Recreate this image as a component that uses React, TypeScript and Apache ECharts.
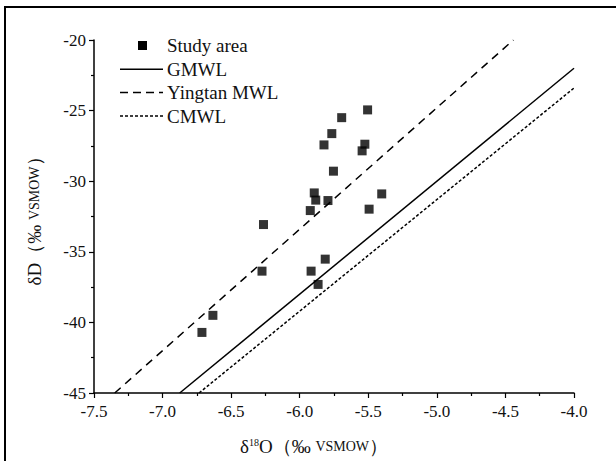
import React, { useEffect, useRef } from 'react';
import * as echarts from 'echarts';

// Study area samples (δ18O, δD)
const studyO = [-5.505, -5.694, -5.766, -5.823, -5.525, -5.545, -5.754, -5.894, -5.883, -5.794, -5.402, -5.923, -5.494, -6.264, -5.814, -6.275, -5.917, -5.866, -6.633, -6.713];
const studyD = [-24.95, -25.5, -26.63, -27.43, -27.38, -27.85, -29.29, -30.83, -31.34, -31.37, -30.9, -32.08, -31.98, -33.07, -35.52, -36.37, -36.37, -37.31, -39.5, -40.71];

// Meteoric water lines: end points (δ18O, δD)
const gmwlO = [-6.875, -4.0];
const gmwlD = [-45, -22];
const yingtanO = [-7.349, -4.442];
const yingtanD = [-45, -20];
const cmwlO = [-6.734, -4.0];
const cmwlD = [-45, -23.4];

const xTicks = ['-7.5', '-7.0', '-6.5', '-6.0', '-5.5', '-5.0', '-4.5', '-4.0'];
const yTicks = ['-45', '-40', '-35', '-30', '-25', '-20'];
const legendNames = ['Study area', 'GMWL', 'Yingtan MWL', 'CMWL'];

const FONT = 'Liberation Serif';
const TXT = '#111';

const pair = (xs: number[], ys: number[]) => xs.map((x, i) => [x, ys[i]]);

export default function App() {
  const ref = useRef<HTMLDivElement>(null);
  useEffect(() => {
    const chart = echarts.init(ref.current!, null, { renderer: 'svg' });
    const axisLine = { lineStyle: { color: '#000', width: 1.5 } };
    const legendY = [45.5, 69.3, 92.5, 116];
    const dashes: any[] = [null, 'solid', [8, 5], [3, 2]];
    const legendGraphics: any[] = [
      {
        type: 'rect',
        shape: { x: 138, y: legendY[0] - 4.5, width: 9, height: 9 },
        style: { fill: '#000' },
        silent: true,
      },
    ];
    for (let i = 1; i < 4; i++) {
      legendGraphics.push({
        type: 'line',
        shape: { x1: 120, y1: legendY[i], x2: 163, y2: legendY[i] },
        style: { stroke: '#000', lineWidth: 1.5, lineDash: dashes[i] === 'solid' ? null : dashes[i] },
        silent: true,
      });
    }
    legendNames.forEach((n, i) => {
      legendGraphics.push({
        type: 'text',
        x: 167,
        y: legendY[i],
        style: { text: n, fontFamily: FONT, fontSize: 19, fill: TXT, verticalAlign: 'middle', align: 'left' },
        silent: true,
      });
    });
    const tickRich = { t: { fontFamily: FONT, fontSize: 17, color: TXT } };
    chart.setOption({
      animation: false,
      backgroundColor: '#fff',
      textStyle: { fontFamily: FONT },
      grid: { left: 94, right: 42, top: 40, bottom: 68 },
      xAxis: {
        type: 'value',
        min: -7.5,
        max: -4.0,
        interval: 0.5,
        axisLine: { ...axisLine, onZero: false },
        axisTick: { show: true, length: 5, lineStyle: { color: '#000', width: 1.2 } },
        minorTick: { show: true, splitNumber: 2, length: 3, lineStyle: { color: '#000', width: 1.2 } },
        splitLine: { show: false },
        axisLabel: {
          fontFamily: FONT,
          fontSize: 17,
          color: TXT,
          margin: 10,
          rich: tickRich,
          formatter: (v: number) => '{t|' + (xTicks[Math.round((v + 7.5) / 0.5)] ?? v.toFixed(1)) + '}',
        },
        name: '{a|δ}{s|18}{a|O（‰ }{b|VSMOW}{a|）}',
        nameLocation: 'middle',
        nameGap: 44,
        nameTextStyle: {
          fontFamily: FONT,
          padding: [0, 40, 0, 0],
          rich: {
            a: { fontFamily: FONT, fontSize: 19, color: TXT },
            s: { fontFamily: FONT, fontSize: 10, color: TXT, padding: [0, 0, 9, 0] },
            b: { fontFamily: FONT, fontSize: 14, color: TXT },
          },
        },
      },
      yAxis: {
        type: 'value',
        min: -45,
        max: -20,
        interval: 5,
        axisLine: { ...axisLine, onZero: false },
        axisTick: { show: true, length: 5, lineStyle: { color: '#000', width: 1.2 } },
        minorTick: { show: true, splitNumber: 2, length: 3, lineStyle: { color: '#000', width: 1.2 } },
        splitLine: { show: false },
        axisLabel: {
          fontFamily: FONT,
          fontSize: 17,
          color: TXT,
          margin: 8,
          rich: tickRich,
          formatter: (v: number) => '{t|' + (yTicks[Math.round((v + 45) / 5)] ?? String(v)) + '}',
        },
        name: '{a|δD（‰ }{b|VSMOW}{a|）}',
        nameLocation: 'middle',
        nameGap: 50,
        nameRotate: 90,
        nameTextStyle: {
          fontFamily: FONT,
          rich: {
            a: { fontFamily: FONT, fontSize: 19, color: TXT },
            b: { fontFamily: FONT, fontSize: 14, color: TXT },
          },
        },
      },
      series: [
        {
          name: 'Study area',
          type: 'scatter',
          symbol: 'rect',
          symbolSize: 9,
          itemStyle: { color: '#000' },
          data: pair(studyO, studyD),
          z: 5,
        },
        {
          name: 'GMWL',
          type: 'line',
          showSymbol: false,
          symbol: 'none',
          lineStyle: { color: '#000', width: 1.5, type: 'solid' },
          data: pair(gmwlO, gmwlD),
        },
        {
          name: 'Yingtan MWL',
          type: 'line',
          showSymbol: false,
          symbol: 'none',
          lineStyle: { color: '#000', width: 1.5, type: [8, 6] },
          data: pair(yingtanO, yingtanD),
        },
        {
          name: 'CMWL',
          type: 'line',
          showSymbol: false,
          symbol: 'none',
          lineStyle: { color: '#000', width: 1.5, type: [3, 2] },
          data: pair(cmwlO, cmwlD),
        },
      ],
      graphic: [
        {
          type: 'polyline',
          shape: { points: [[5, 461], [5, 7], [616, 7]] },
          style: { stroke: '#000', lineWidth: 2, fill: 'none' },
          silent: true,
        },
        ...legendGraphics,
      ],
    });
    return () => chart.dispose();
  }, []);
  return <div ref={ref} style={{ position: 'fixed', left: 0, top: 0, width: 616, height: 461 }} />;
}
